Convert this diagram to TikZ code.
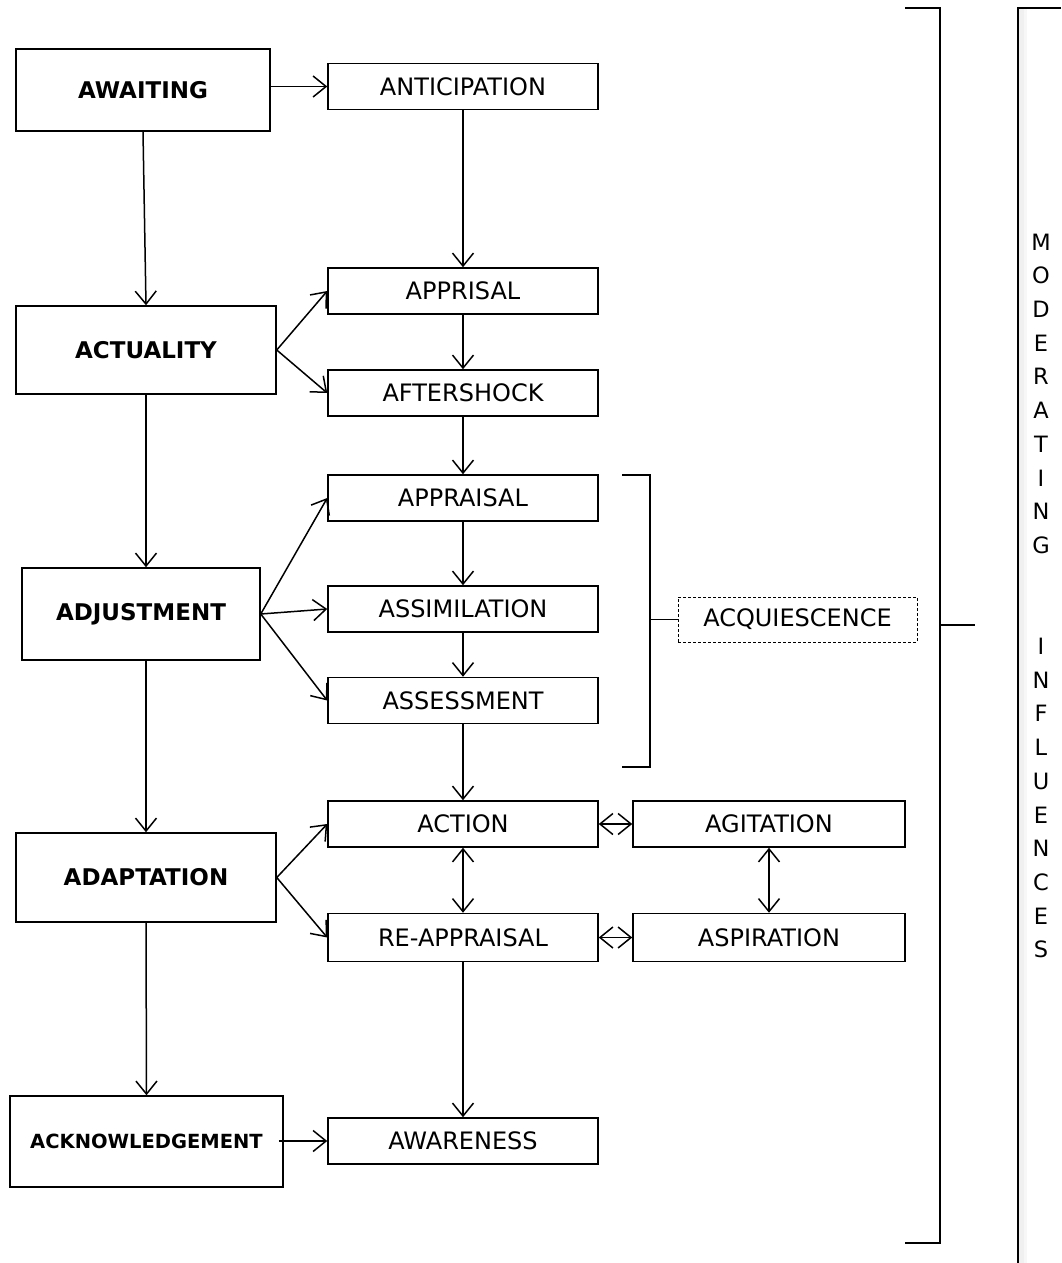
\documentclass[tikz,border=0pt]{standalone}
\usepackage{fontspec}
\setmainfont{DejaVu Sans}
\usetikzlibrary{arrows.meta}
\begin{document}
\begin{tikzpicture}[x=1pt,y=-1pt,
  line width=1.5pt,
  stagebox/.style={draw, rectangle, inner sep=0pt,
    font=\fontsize{23}{27}\selectfont\bfseries},
  phasebox/.style={draw, rectangle, inner sep=0pt, minimum width=270,
    minimum height=46, font=\fontsize{24}{28}\selectfont},
  sidebox/.style={phasebox, minimum width=272},
  tip/.tip={Straight Barb[length=13pt,width=21pt,line width=1.5pt]},
  arr/.style={-tip},
  darr/.style={tip-tip},
  bracket/.style={line width=1.5pt}]
\useasboundingbox (0,0) rectangle (1061,1263);

% main stages on the left
\node[stagebox, minimum width=254, minimum height=82] (await) at (143,90) {AWAITING};
\node[stagebox, minimum width=260, minimum height=88] (actual) at (146,350) {ACTUALITY};
\node[stagebox, minimum width=238, minimum height=92] (adjust) at (141,614) {ADJUSTMENT};
\node[stagebox, minimum width=260, minimum height=89] (adapt) at (146,877.5) {ADAPTATION};
\node[stagebox, minimum width=273, minimum height=91,
  font=\fontsize{19.5}{23}\selectfont\bfseries] (ack) at (146.5,1141.5) {ACKNOWLEDGEMENT};

% phases in the middle column
\node[phasebox] (antic) at (463,86.5) {ANTICIPATION};
\node[phasebox] (apprisal) at (463,291) {APPRISAL};
\node[phasebox] (after) at (463,393) {AFTERSHOCK};
\node[phasebox] (appraisal) at (463,498) {APPRAISAL};
\node[phasebox] (assim) at (463,609) {ASSIMILATION};
\node[phasebox] (assess) at (463,700.5) {ASSESSMENT};
\node[phasebox] (action) at (463,824) {ACTION};
\node[phasebox, minimum height=48] (reappr) at (463,937.5) {RE-APPRAISAL};
\node[phasebox] (aware) at (463,1141) {AWARENESS};

% side boxes
\node[sidebox] (agit) at (769,824) {AGITATION};
\node[sidebox, minimum height=48] (aspir) at (769,937.5) {ASPIRATION};
\node[phasebox, dashed, line width=1pt, dash pattern=on 3pt off 2pt,
  minimum width=239, minimum height=45] (acq) at (797.5,619.5) {ACQUIESCENCE};

% vertical flow between stages
\draw[arr] (await.south) -- (actual.north);
\draw[arr] (actual.south) -- (actual.south |- adjust.north);
\draw[arr] (actual.south |- adjust.south) -- (actual.south |- adapt.north);
\draw[arr] (adapt.south) -- (ack.north);

% stage to phase links
\draw[arr] (await.east |- antic.west) -- (antic.west);
\draw[arr] (actual.east) -- (apprisal.west);
\draw[arr] (actual.east) -- (after.west);
\draw[arr] (adjust.east) -- (appraisal.west);
\draw[arr] (adjust.east) -- (assim.west);
\draw[arr] (adjust.east) -- (assess.west);
\draw[arr] (adapt.east) -- (action.west);
\draw[arr] (adapt.east) -- (reappr.west);
\draw[arr] ([xshift=-5pt]ack.east |- aware.west) -- (aware.west);

% vertical flow between phases
\draw[arr] (antic.south) -- (apprisal.north);
\draw[arr] (apprisal.south) -- (after.north);
\draw[arr] (after.south) -- (appraisal.north);
\draw[arr] (appraisal.south) -- (assim.north);
\draw[arr] (assim.south) -- (assess.north);
\draw[arr] (assess.south) -- (action.north);
\draw[darr] (action.south) -- (reappr.north);
\draw[arr] (reappr.south) -- (aware.north);

% two-way links with side boxes
\draw[darr] (action.east) -- (agit.west);
\draw[darr] (reappr.east) -- (aspir.west);
\draw[darr] (agit.south) -- (aspir.north);

% bracket grouping the adjustment phases
\coordinate (bA) at (650,619.5);
\draw[bracket] (622,475) -- (650,475) -- (650,767) -- (622,767);
\draw[bracket] (bA) -- (acq.west);

% large bracket to the moderating influences
\coordinate (bB) at (975,625);
\draw[bracket] (905,8) -- (940,8) -- (940,1243) -- (905,1243);
\draw[bracket] (940,625) -- (bB);

% moderating influences panel
\fill[gray!12] (1019,9) rectangle (1024,1263);
\fill[gray!6] (1024,9) rectangle (1027,1263);
\draw[line width=1.6pt] (1061,8) -- (1018,8) -- (1018,1263);
\node[anchor=north, align=center, inner sep=0pt,
  font=\fontsize{22.5}{33.7}\selectfont] (mod) at (1041,233)
  {M\\O\\D\\E\\R\\A\\T\\I\\N\\G\\[33.7pt]\\I\\N\\F\\L\\U\\E\\N\\C\\E\\S};
\end{tikzpicture}
\end{document}
